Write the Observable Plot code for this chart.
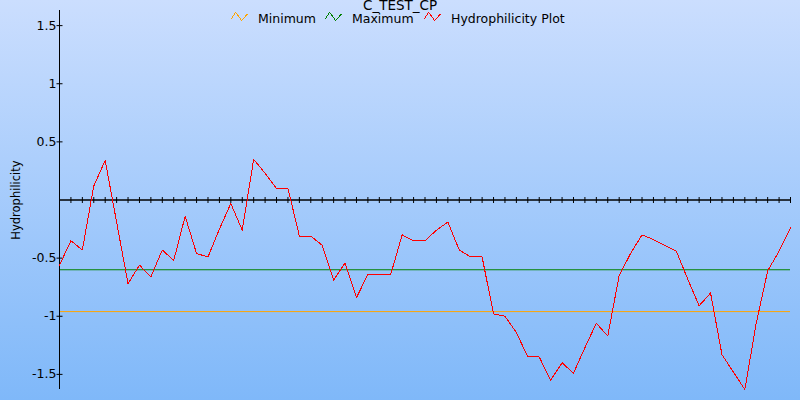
<!DOCTYPE html>
<html>
<head>
<meta charset="utf-8">
<script src="https://cdn.jsdelivr.net/npm/d3@7"></script>
<script src="https://cdn.jsdelivr.net/npm/@observablehq/plot@0.6"></script>
<style>
html, body { margin: 0; padding: 0; }
#wrap { position: relative; width: 800px; height: 400px; overflow: hidden;
  background: linear-gradient(to bottom, #cbdefe, #7fb8f9);
  font-family: "DejaVu Sans", sans-serif; }
#chart svg { display: block; }
#overlay { position: absolute; left: 0; top: 0; pointer-events: none; }
</style>
</head>
<body>
<div id="wrap"><div id="chart"></div><svg id="overlay" width="800" height="400"></svg></div>
<script>
const chartTitle = "C_TEST_CP";
const yLabel = "Hydrophilicity";
const seriesNames = ["Minimum", "Maximum", "Hydrophilicity Plot"];
const seriesColors = ["orange", "green", "red"];
const hydrophilicity = [
  -0.56, -0.35, -0.43, 0.12, 0.34, -0.19, -0.72, -0.56, -0.66, -0.43,
  -0.52, -0.14, -0.46, -0.49, -0.25, -0.03, -0.26, 0.35, 0.23, 0.10,
  0.10, -0.31, -0.31, -0.39, -0.69, -0.54, -0.84, -0.64, -0.64, -0.64,
  -0.30, -0.35, -0.35, -0.26, -0.19, -0.43, -0.49, -0.49, -0.98, -1.00,
  -1.14, -1.35, -1.35, -1.55, -1.40, -1.49, -1.27, -1.06, -1.17, -0.65,
  -0.46, -0.30, -0.34, -0.39, -0.44, -0.68, -0.91, -0.80, -1.33, -1.48,
  -1.63, -1.06, -0.61, -0.44, -0.24
];
const minimumLevel = [-0.96];
const maximumLevel = [-0.60];
const yTicks = [-1.5, -1, -0.5, 0.5, 1, 1.5];
const xTicks = d3.range(1, hydrophilicity.length);

const data = hydrophilicity.map((v, i) => ({pos: i, value: v}));
const vTick = {draw(ctx, size) { const r = Math.sqrt(size / Math.PI); ctx.moveTo(0, -r); ctx.lineTo(0, r); }};
const hTick = {draw(ctx, size) { const r = Math.sqrt(size / Math.PI); ctx.moveTo(-r, 0); ctx.lineTo(r, 0); }};

const plot = Plot.plot({
  width: 800, height: 400,
  marginLeft: 59, marginRight: 10, marginTop: 10, marginBottom: 11,
  style: {background: "transparent", fontFamily: "DejaVu Sans", fontSize: "12.5px", color: "#000", overflow: "visible"},
  x: {domain: [0, hydrophilicity.length - 1], axis: null},
  y: {domain: [-1.63, 1.63], axis: null},
  marks: [
    Plot.ruleY(minimumLevel, {stroke: seriesColors[0], strokeWidth: 1}),
    Plot.ruleY(maximumLevel, {stroke: seriesColors[1], strokeWidth: 1}),
    Plot.ruleX([0], {stroke: "black", strokeWidth: 1}),
    Plot.ruleY([0], {stroke: "black", strokeWidth: 1.5}),
    Plot.dot(xTicks, {x: d => d, y: () => 0, r: 3, symbol: vTick, stroke: "black", fill: "none", strokeWidth: 1}),
    Plot.dot(yTicks, {x: () => 0, y: d => d, r: 3, symbol: hTick, stroke: "black", fill: "none", strokeWidth: 1}),
    Plot.text(yTicks, {x: () => 0, y: d => d, text: d => String(d), textAnchor: "end", dx: -3, fill: "black", fontSize: 12.5}),
    Plot.line(data, {x: "pos", y: "value", stroke: seriesColors[2], strokeWidth: 1, shapeRendering: "crispEdges"}),
    Plot.text([yLabel], {text: d => d, frameAnchor: "left", textAnchor: "middle", rotate: -90, dx: -43, fontSize: 11.5, fill: "black"})
  ]
});
document.getElementById("chart").appendChild(plot);

const ov = d3.select("#overlay");
ov.append("text").attr("x", 400).attr("y", 10).attr("text-anchor", "middle")
  .style("font-family", "DejaVu Sans").style("font-size", "13.5px").attr("fill", "black").text(chartTitle);
const iconLefts = [231, 325, 424];
seriesNames.forEach((name, i) => {
  const x0 = iconLefts[i], y0 = 12;
  ov.append("polyline")
    .attr("points", [[0, 7.3], [4.7, 0.3], [10.7, 8.7], [16.3, 2]].map(([a, b]) => `${x0 + a},${y0 + b}`).join(" "))
    .attr("fill", "none").attr("stroke", seriesColors[i]).attr("stroke-width", 1)
    .attr("shape-rendering", "crispEdges");
  ov.append("text").attr("x", x0 + 27).attr("y", 23)
    .style("font-family", "DejaVu Sans").style("font-size", "12.5px").attr("fill", "black").text(name);
});
</script>
</body>
</html>
